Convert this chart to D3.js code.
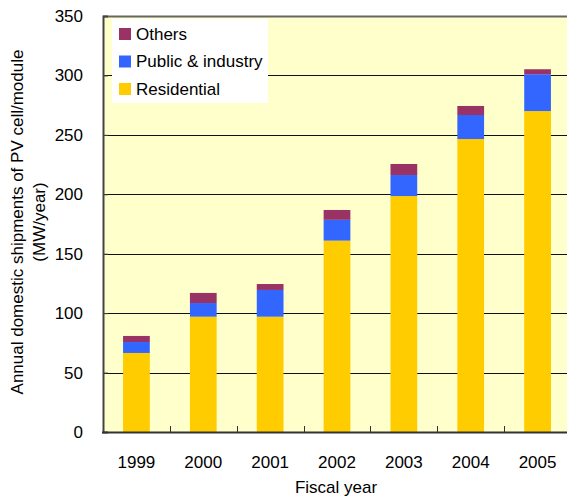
<!DOCTYPE html>
<html>
<head>
<meta charset="utf-8">
<script src="https://cdn.jsdelivr.net/npm/d3@7"></script>
<style>
  html, body { margin: 0; padding: 0; background: #fff; }
  svg { display: block; font-family: "Liberation Sans", Arial, sans-serif; }
</style>
</head>
<body>
<svg id="chart" width="567" height="500"></svg>
<script>
const years = ["1999", "2000", "2001", "2002", "2003", "2004", "2005"];
const residential = [66.5, 97, 97, 161, 198.5, 246.5, 270];
const publicIndustry = [9.2, 11.5, 22.5, 17.5, 17.7, 20.2, 31];
const others = [5.1, 8.5, 5, 8.3, 9.3, 7.6, 4.2];
const seriesNames = ["Residential", "Public & industry", "Others"];
const seriesColors = ["#FFCC00", "#3366FF", "#993366"];
const yTicks = [0, 50, 100, 150, 200, 250, 300, 350];

const svg = d3.select("#chart");
const m = { left: 103, top: 16, right: 571, bottom: 432 };
const fontSize = 17;

const x = d3.scaleBand().domain(years).range([m.left, m.right])
  .paddingInner(0.6).paddingOuter(0.3);
const y = d3.scaleLinear().domain([0, 350]).range([m.bottom, m.top]);

const table = years.map((yr, i) => ({
  year: yr,
  "Residential": residential[i],
  "Public & industry": publicIndustry[i],
  "Others": others[i]
}));
const stacked = d3.stack().keys(seriesNames)(table);

// plot background
svg.append("rect").attr("x", m.left).attr("y", m.top)
  .attr("width", m.right - m.left).attr("height", m.bottom - m.top)
  .attr("fill", "#FFFFCC");

// gridlines
svg.append("g").selectAll("line").data(yTicks.filter(d => d > 0))
  .join("line")
  .attr("x1", m.left).attr("x2", m.right)
  .attr("y1", d => Math.round(y(d)) + 0.5).attr("y2", d => Math.round(y(d)) + 0.5)
  .attr("stroke", d => d === 350 ? "#666" : "#111").attr("stroke-width", d => d === 350 ? 2 : 1);

// bars
svg.append("g").selectAll("g").data(stacked).join("g")
  .attr("fill", (d, i) => seriesColors[i])
  .selectAll("rect").data(d => d).join("rect")
  .attr("x", d => x(d.data.year))
  .attr("width", x.bandwidth())
  .attr("y", d => y(d[1]))
  .attr("height", d => y(d[0]) - y(d[1]));

// y axis
const yAxis = d3.axisLeft(y).tickValues(yTicks).tickSize(-5).tickPadding(20);
const gy = svg.append("g").attr("transform", `translate(${m.left},0)`).call(yAxis);
gy.select(".domain").attr("stroke", "#444").attr("stroke-width", 2);
gy.selectAll(".tick line").attr("stroke", "#444");
gy.selectAll(".tick text").attr("font-size", fontSize).attr("fill", "#000")
  .attr("font-family", "Liberation Sans, Arial, sans-serif");

// x axis
const boundaries = years.map((d, i) => i + 1);
const step = x.step();
const gx = svg.append("g");
gx.append("line").attr("x1", m.left - 1).attr("x2", m.right)
  .attr("y1", m.bottom + 0.5).attr("y2", m.bottom + 0.5)
  .attr("stroke", "#333").attr("stroke-width", 2);
gx.selectAll("line.tk").data(boundaries).join("line").attr("class", "tk")
  .attr("x1", d => Math.round(m.left + d * step) + 0.5)
  .attr("x2", d => Math.round(m.left + d * step) + 0.5)
  .attr("y1", m.bottom).attr("y2", m.bottom - 6)
  .attr("stroke", "#333");
gx.selectAll("text").data(years).join("text")
  .attr("x", d => x(d) + x.bandwidth() / 2)
  .attr("y", 462).attr("dy", "0.35em")
  .attr("text-anchor", "middle").attr("font-size", fontSize)
  .text(d => d);

// axis titles
svg.append("text").attr("x", 336)
  .attr("y", 487).attr("dy", "0.35em").attr("text-anchor", "middle")
  .attr("font-size", fontSize).text("Fiscal year");

const yt = svg.append("text").attr("transform", `translate(0,222) rotate(-90)`)
  .attr("text-anchor", "middle").attr("font-size", fontSize);
yt.append("tspan").attr("x", 0).attr("y", 23).text("Annual domestic shipments of PV cell/module");
yt.append("tspan").attr("x", 0).attr("y", 45).text("(MW/year)");

// legend
const lg = svg.append("g");
lg.append("rect").attr("x", 112).attr("y", 19).attr("width", 156).attr("height", 84).attr("fill", "#fff");
const legendOrder = ["Others", "Public & industry", "Residential"];
legendOrder.forEach((name, i) => {
  const cy = 34 + i * 27.5;
  const ci = seriesNames.indexOf(name);
  lg.append("rect").attr("x", 119).attr("y", cy - 6).attr("width", 12).attr("height", 12)
    .attr("fill", seriesColors[ci]);
  lg.append("text").attr("x", 136).attr("y", cy).attr("dy", "0.35em")
    .attr("font-size", fontSize).text(name);
});
</script>
</body>
</html>
